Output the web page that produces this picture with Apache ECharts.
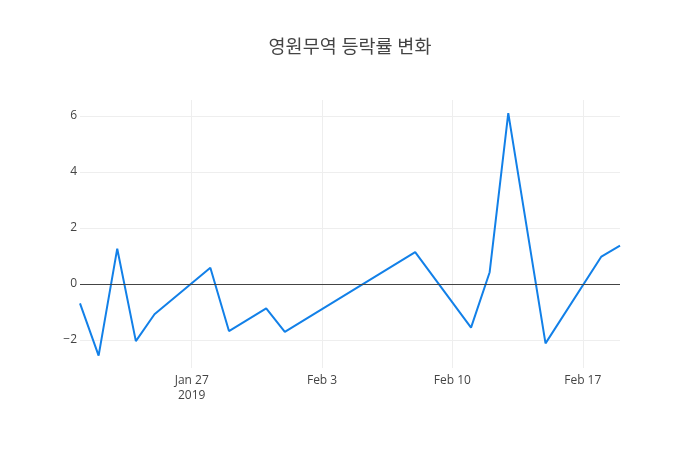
<!DOCTYPE html>
<html>
<head>
<meta charset="utf-8">
<script src="https://cdn.jsdelivr.net/npm/echarts@6/dist/echarts.min.js"></script>
<style>html,body{margin:0;padding:0;background:#fff}#c{width:700px;height:450px}</style>
</head>
<body>
<div id="c"></div>
<script>
const title = '영원무역 등락률 변화';
const dates = ['2019-01-21','2019-01-22','2019-01-23','2019-01-24','2019-01-25','2019-01-28','2019-01-29','2019-01-31','2019-02-01','2019-02-08','2019-02-11','2019-02-12','2019-02-13','2019-02-15','2019-02-18','2019-02-19'];
const changes = [-0.69,-2.56,1.26,-2.04,-1.08,0.58,-1.68,-0.87,-1.71,1.14,-1.56,0.42,6.10,-2.12,0.98,1.37];
const xTickDates = ['2019-01-27','2019-02-03','2019-02-10','2019-02-17'];
const xTickLabels = ['Jan 27\n2019','Feb 3','Feb 10','Feb 17'];
const yTicks = [-2,0,2,4,6];
const xMinDate = '2019-01-21', xMaxDate = '2019-02-19';
const yMin = -3.0, yMax = 6.57;

// day number since 2019-01-01 (UTC, no timezone issues)
const dayNum = s => { const [y,m,d] = s.split('-').map(Number); return (Date.UTC(y, m-1, d) - Date.UTC(2019, 0, 1)) / 86400000; };
const xTicks = xTickDates.map(dayNum);
const chart = echarts.init(document.getElementById('c'));
const font = '"Open Sans", "Noto Sans CJK KR", sans-serif';
chart.setOption({
  animation: false,
  backgroundColor: '#fff',
  title: {
    text: title, left: 'center', top: 33,
    textStyle: {fontFamily: font, fontSize: 18.5, fontWeight: 'normal', color: '#444'}
  },
  grid: {left: 80, right: 80, top: 100, bottom: 82, containLabel: false},
  xAxis: {
    type: 'value', min: dayNum(xMinDate), max: dayNum(xMaxDate),
    axisLine: {show: false},
    axisTick: {show: false, customValues: xTicks},
    splitLine: {show: true, lineStyle: {color: '#eee', width: 1}},
    axisLabel: {
      customValues: xTicks, margin: 5, color: '#444', fontFamily: font, fontSize: 12, lineHeight: 15,
      formatter: v => { const i = xTicks.indexOf(v); return i >= 0 ? xTickLabels[i] : ''; }
    }
  },
  yAxis: {
    type: 'value', min: yMin, max: yMax,
    axisLine: {show: false},
    axisTick: {show: false, customValues: yTicks},
    splitLine: {show: true, lineStyle: {color: '#eee', width: 1}},
    axisLabel: {customValues: yTicks, margin: 3, color: '#444', fontFamily: font, fontSize: 12,
      formatter: v => (v < 0 ? '\u2212' + Math.abs(v) : String(v))}
  },
  series: [{
    type: 'line',
    data: dates.map((d, i) => [dayNum(d), changes[i]]),
    showSymbol: false, symbol: 'none',
    lineStyle: {color: '#1280e8', width: 2},
    markLine: {
      silent: true, symbol: 'none', label: {show: false},
      lineStyle: {color: '#444', width: 1, type: 'solid'},
      data: [{yAxis: 0}]
    },
    z: 3
  }]
});
</script>
</body>
</html>
